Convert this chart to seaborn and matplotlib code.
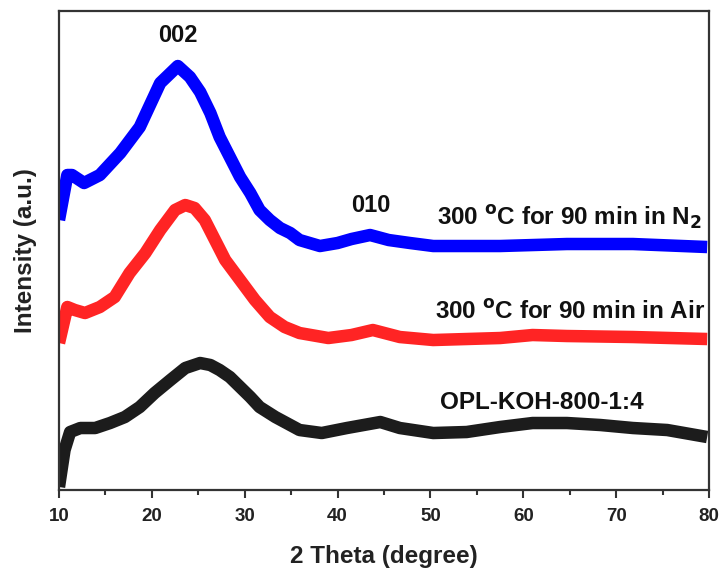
import matplotlib
matplotlib.use("Agg")
import matplotlib.pyplot as plt
from matplotlib.ticker import MultipleLocator
import seaborn as sns
import pandas as pd

# XRD patterns (offset intensity, arbitrary units)
two_theta_n2 = [10.0, 10.9, 11.4, 12.7, 14.4, 16.6, 18.7, 20.9, 22.8, 24.1, 25.2, 26.3,
                27.3, 28.4, 29.5, 30.6, 31.6, 32.7, 33.8, 34.9, 35.9, 38.1, 40.0, 41.5,
                43.5, 45.5, 47.8, 50.3, 57.5, 64.7, 71.8, 79.8]
intensity_n2 = [270, 315, 315, 307, 315, 337, 363, 407, 424, 413, 398, 377,
                353, 333, 313, 297, 280, 270, 262, 257, 250, 244, 247, 251,
                255, 250, 247, 244, 244, 246, 246, 243]

two_theta_air = [10.0, 10.9, 11.7, 12.8, 14.4, 16.0, 17.6, 19.3, 20.9, 22.5, 23.6, 24.6,
                 25.7, 26.8, 27.9, 29.5, 31.1, 32.7, 34.3, 35.9, 39.0, 41.5, 43.8, 46.7,
                 50.3, 57.5, 61.0, 64.7, 71.8, 79.8]
intensity_air = [147, 183, 180, 177, 183, 193, 217, 237, 260, 280, 285, 282,
                 270, 250, 230, 210, 190, 173, 163, 157, 152, 155, 160, 153,
                 150, 152, 155, 154, 153, 151]

two_theta_opl = [10.0, 10.6, 11.2, 12.3, 13.9, 15.5, 17.1, 18.7, 20.3, 22.0, 23.6, 25.2,
                 26.3, 27.3, 28.4, 29.5, 30.6, 31.6, 33.3, 34.9, 35.9, 38.3, 41.0, 44.6,
                 46.7, 50.3, 53.9, 57.5, 61.0, 64.7, 68.3, 71.8, 75.5, 79.8]
intensity_opl = [3, 40, 58, 62, 62, 67, 73, 83, 97, 110, 122, 127,
                 125, 120, 113, 103, 93, 83, 73, 65, 60, 57, 62, 68,
                 62, 57, 58, 63, 67, 67, 65, 62, 60, 53]

series_labels = ["300 $^{\\mathrm{o}}$C for 90 min in N$_{\\mathbf{2}}$",
                 "300 $^{\\mathrm{o}}$C for 90 min in Air",
                 "OPL-KOH-800-1:4"]
peak_labels = ["002", "010"]
x_ticks = [10, 20, 30, 40, 50, 60, 70, 80]

sns.set_style("ticks")
plt.rcParams["font.family"] = ["Liberation Sans", "DejaVu Sans"]
plt.rcParams["font.weight"] = "bold"
plt.rcParams["mathtext.default"] = "bf"

fig = plt.figure(figsize=(7.21, 5.68), dpi=100)
ax = fig.add_axes([0.0818, 0.1373, 0.9016, 0.8433])

frames = [
    (two_theta_n2, intensity_n2, "#0000FF"),
    (two_theta_air, intensity_air, "#FF2424"),
    (two_theta_opl, intensity_opl, "#1C1C1C"),
]
for xs, ys, color in frames:
    df = pd.DataFrame({"two_theta": xs, "intensity": ys})
    sns.lineplot(data=df, x="two_theta", y="intensity", color=color, lw=9,
                 solid_joinstyle="round", solid_capstyle="butt", ax=ax)

ax.set_xlim(10, 80)
ax.set_ylim(0, 479)
ax.set_xticks(x_ticks)
ax.xaxis.set_minor_locator(MultipleLocator(5))
ax.set_yticks([])
ax.tick_params(axis="x", which="major", direction="out", length=6, width=1.5,
               labelsize=13.5, color="#333333", pad=7)
ax.tick_params(axis="x", which="minor", direction="out", length=3.5, width=1.5,
               color="#333333")
for lab in ax.get_xticklabels():
    lab.set_fontweight("bold")
    lab.set_color("#222222")

for side in ["left", "right", "top", "bottom"]:
    ax.spines[side].set_visible(True)
    ax.spines[side].set_linewidth(1.6)
    ax.spines[side].set_color("#333333")

ax.set_xlabel("2 Theta (degree)", fontsize=17.5, fontweight="bold", labelpad=14,
              color="#222222")
ax.set_ylabel("Intensity (a.u.)", fontsize=17.5, fontweight="bold", labelpad=16,
              color="#222222")

# peak indices
ax.text(22.8, 455, peak_labels[0], fontsize=17, fontweight="bold", ha="center",
        va="center", color="#111111")
ax.text(43.6, 285, peak_labels[1], fontsize=17, fontweight="bold", ha="center",
        va="center", color="#111111")

# sample labels
ax.text(79.2, 272, series_labels[0], fontsize=17.5, fontweight="bold", ha="right",
        va="center", color="#111111")
ax.text(79.6, 178, series_labels[1], fontsize=17.5, fontweight="bold", ha="right",
        va="center", color="#111111")
ax.text(62.0, 88, series_labels[2], fontsize=17.5, fontweight="bold", ha="center",
        va="center", color="#111111")

fig.savefig("out.png", dpi=100)
